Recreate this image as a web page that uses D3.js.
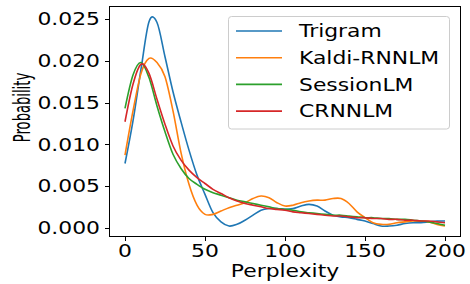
<!DOCTYPE html>
<html><head><meta charset="utf-8">
<script src="https://cdn.jsdelivr.net/npm/d3@7"></script>
<style>html,body{margin:0;padding:0;background:#fff;}svg{display:block;}</style>
</head><body>
<svg id="c" width="470" height="284"></svg>
<script>
const xs = [0,5,10,15,20,25,30,35,40,45,50,55,60,65,70,75,80,85,90,95,100,105,110,115,120,125,130,135,140,145,150,155,160,165,170,175,180,185,190,195,200];
const trigram = [0.0077,0.0128,0.0190,0.0247,0.0246,0.0205,0.0163,0.0127,0.0093,0.0063,0.0040,0.0018,0.0007,0.0002,0.0004,0.0009,0.0015,0.0021,0.0023,0.0023,0.0022,0.0023,0.0026,0.0028,0.0026,0.0020,0.0015,0.0013,0.0012,0.0010,0.0008,0.0005,0.0002,0.0002,0.0003,0.0005,0.0006,0.0006,0.0007,0.0008,0.0008];
const kaldi = [0.0087,0.0140,0.0185,0.0203,0.0198,0.0181,0.0140,0.0090,0.0052,0.0027,0.0016,0.0016,0.0020,0.0024,0.0027,0.0030,0.0035,0.0038,0.0036,0.0030,0.0026,0.0027,0.0030,0.0032,0.0033,0.0033,0.0035,0.0035,0.0029,0.0019,0.0012,0.0006,0.0004,0.0004,0.0006,0.0007,0.0008,0.0008,0.0007,0.0004,0.0002];
const session = [0.0143,0.0183,0.0198,0.0180,0.0146,0.0115,0.0088,0.0071,0.0059,0.0052,0.0046,0.0042,0.0039,0.0036,0.0033,0.0031,0.0029,0.0027,0.0025,0.0023,0.0022,0.0021,0.0019,0.0018,0.0017,0.0016,0.0015,0.0015,0.0014,0.0013,0.0012,0.0012,0.0011,0.0011,0.0010,0.0010,0.0009,0.0008,0.0007,0.0005,0.0003];
const crnnlm = [0.0127,0.0172,0.0196,0.0185,0.0154,0.0124,0.0098,0.0081,0.0069,0.0060,0.0053,0.0046,0.0041,0.0036,0.0032,0.0029,0.0027,0.0025,0.0023,0.0022,0.0021,0.0019,0.0018,0.0017,0.0016,0.0015,0.0014,0.0014,0.0013,0.0012,0.0012,0.0011,0.0011,0.0010,0.0010,0.0009,0.0009,0.0008,0.0008,0.0007,0.0006];
const seriesNames = ["Trigram","Kaldi-RNNLM","SessionLM","CRNNLM"];
const seriesValues = [trigram, kaldi, session, crnnlm];
const colors = ["#1f77b4","#ff7f0e","#2ca02c","#d62728"];
const xTicks = [0,50,100,150,200];
const yTicks = [0,0.005,0.010,0.015,0.020,0.025];
const xLabel = "Perplexity";
const yLabel = "Probability";

const svg = d3.select("#c");
const FONT = "DejaVu Sans";
const FS = 17.5, SX = 1.25;
const L = 109, R = 461, T = 6, B = 236.7;
const x = d3.scaleLinear().domain([-10,210]).range([L,R]);
const y = d3.scaleLinear().domain([-0.00108,0.02658]).range([B,T]);

// lines
const line = d3.line().x((d,i)=>x(xs[i])).y(d=>y(d)).curve(d3.curveCardinal.tension(0));
seriesValues.forEach((vals,k)=>{
  svg.append("path").attr("d", line(vals)).attr("fill","none")
    .attr("stroke", colors[k]).attr("stroke-width",1.6).attr("stroke-linejoin","round");
});

// spines
svg.append("rect").attr("x",109.5).attr("y",6.5).attr("width",351).attr("height",230)
  .attr("fill","none").attr("stroke","#000").attr("stroke-width",1);

// y ticks
const fmt = d3.format(".3f");
yTicks.forEach(t=>{
  const yy = Math.round(y(t))+0.5;
  svg.append("line").attr("x1",105).attr("x2",109).attr("y1",yy).attr("y2",yy).attr("stroke","#000");
  svg.append("text").text(fmt(t)).attr("font-family",FONT).attr("font-size",FS)
    .attr("text-anchor","end")
    .attr("transform",`translate(100,${y(t)+6.3}) scale(${SX},1)`);
});
// x ticks
xTicks.forEach(t=>{
  const xx = Math.round(x(t))+0.5;
  svg.append("line").attr("x1",xx).attr("x2",xx).attr("y1",237).attr("y2",241).attr("stroke","#000");
  svg.append("text").text(String(t)).attr("font-family",FONT).attr("font-size",FS)
    .attr("text-anchor","middle")
    .attr("transform",`translate(${x(t)},256.8) scale(${SX},1)`);
});
// axis labels
svg.append("text").text(xLabel).attr("font-family",FONT).attr("font-size",FS)
  .attr("text-anchor","middle")
  .attr("transform",`translate(${(L+R)/2},276.8) scale(${SX},1)`);
svg.append("text").text(yLabel).attr("font-family",FONT).attr("font-size",FS)
  .attr("text-anchor","middle")
  .attr("transform",`translate(29.5,107.5) rotate(-90) scale(0.75,1.3)`);

// legend
const lg = svg.append("g");
lg.append("rect").attr("x",228.5).attr("y",16.5).attr("width",221).attr("height",112.5)
  .attr("rx",3).attr("fill","#fff").attr("fill-opacity",0.8).attr("stroke","#cccccc").attr("stroke-width",1);
seriesNames.forEach((n,k)=>{
  const yy = 31 + k*26.7;
  lg.append("line").attr("x1",236).attr("x2",282).attr("y1",yy).attr("y2",yy)
    .attr("stroke",colors[k]).attr("stroke-width",1.6);
  lg.append("text").text(n).attr("font-family",FONT).attr("font-size",FS)
    .attr("transform",`translate(299,${yy+6.3}) scale(${SX},1)`);
});
</script>
</body></html>
